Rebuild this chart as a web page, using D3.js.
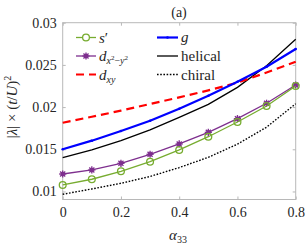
<!DOCTYPE html>
<html><head><meta charset="utf-8">
<script src="https://cdn.jsdelivr.net/npm/d3@7/dist/d3.min.js"></script>
<style>body{margin:0;background:#fff}svg{display:block}text{font-family:"Liberation Serif","DejaVu Serif",serif;fill:#262626}</style>
</head><body><svg id="c" width="305" height="245"></svg>
<script>
const alpha = [0, 0.1, 0.2, 0.3, 0.4, 0.5, 0.6, 0.7, 0.8];
const sPrime = [0.01077, 0.01145, 0.01239, 0.01353, 0.01492, 0.01649, 0.01823, 0.02013, 0.0225];
const dx2y2 = [0.01207, 0.01255, 0.01334, 0.01441, 0.01563, 0.01701, 0.01863, 0.02045, 0.02262];
const dxy = [0.01815, 0.01885, 0.01958, 0.02037, 0.02115, 0.02198, 0.02289, 0.0241, 0.02538];
const gWave = [0.0150, 0.01602, 0.01717, 0.01839, 0.0198, 0.02135, 0.02301, 0.02479, 0.02689];
const helical = [0.0140, 0.01492, 0.01602, 0.01729, 0.01878, 0.02032, 0.02234, 0.0249, 0.02803];
const chiral = [0.00967, 0.0103, 0.01097, 0.01178, 0.01283, 0.01405, 0.01561, 0.01762, 0.0204];
const xTicks = [0, 0.2, 0.4, 0.6, 0.8];
const xTickLabels = ["0", "0.2", "0.4", "0.6", "0.8"];
const yTicks = [0.01, 0.015, 0.02, 0.025, 0.03];
const yTickLabels = ["0.01", "0.015", "0.02", "0.025", "0.03"];

const svg = d3.select("#c");
const L = 62.7, R = 295.7, T = 22.7, B = 199.5;
const x = d3.scaleLinear().domain([0, 0.8]).range([L, R]);
const y = d3.scaleLinear().domain([0.00905, 0.03]).range([B, T]);
const axCol = "#b8b8b8";

// axes with inner ticks
const gx = svg.append("g").attr("transform", `translate(0,${B})`)
  .call(d3.axisBottom(x).tickValues(xTicks).tickFormat((d,i)=>xTickLabels[i]).tickSizeInner(-3).tickSizeOuter(0).tickPadding(8));
const gxt = svg.append("g").attr("transform", `translate(0,${T})`)
  .call(d3.axisTop(x).tickValues(xTicks).tickFormat("").tickSizeInner(-3).tickSizeOuter(0));
const gy = svg.append("g").attr("transform", `translate(${L},0)`)
  .call(d3.axisLeft(y).tickValues(yTicks).tickFormat((d,i)=>yTickLabels[i]).tickSizeInner(-3).tickSizeOuter(0).tickPadding(6));
const gyr = svg.append("g").attr("transform", `translate(${R},0)`)
  .call(d3.axisRight(y).tickValues(yTicks).tickFormat("").tickSizeInner(-3).tickSizeOuter(0));
[gx, gxt, gy, gyr].forEach(g => {
  g.select(".domain").remove();
  g.selectAll("line").attr("stroke", axCol);
  g.selectAll("text").style("font-family", '"Liberation Serif",serif').style("font-size", "14px").attr("fill", "#262626");
});
svg.append("rect").attr("x", L).attr("y", T).attr("width", R - L).attr("height", B - T)
  .attr("fill", "none").attr("stroke", axCol).attr("stroke-width", 1);

const line = d3.line().x((d, i) => x(alpha[i])).y(d => y(d));
function drawLine(data, color, width, dash) {
  svg.append("path").datum(data).attr("d", line).attr("fill", "none")
    .attr("stroke", color).attr("stroke-width", width).attr("stroke-dasharray", dash || null);
}
function star(g, cx, cy, color, r) {
  for (let k = 0; k < 4; k++) {
    const a = k * Math.PI / 4;
    g.append("line").attr("x1", cx - r * Math.cos(a)).attr("y1", cy - r * Math.sin(a))
      .attr("x2", cx + r * Math.cos(a)).attr("y2", cy + r * Math.sin(a))
      .attr("stroke", color).attr("stroke-width", 1.3);
  }
  g.append("circle").attr("cx", cx).attr("cy", cy).attr("r", 2.2).attr("fill", color);
}
const green = "#77AC30", purple = "#7E2F8E";

drawLine(chiral, "#000", 1.4, "1.6,1.6");
drawLine(helical, "#000", 1.3);
drawLine(dxy, "#ff0000", 2.2, "8,5");
drawLine(gWave, "#0000ff", 2.2);
svg.selectAll(".gdot").data(gWave).enter().append("circle")
  .attr("cx", (d, i) => x(alpha[i])).attr("cy", d => y(d)).attr("r", 1.3).attr("fill", "#0000ff");
drawLine(dx2y2, purple, 1.3);
const pg = svg.append("g");
dx2y2.forEach((d, i) => star(pg, x(alpha[i]), y(d), purple, 3.6));
drawLine(sPrime, green, 1.3);
svg.selectAll(".sc").data(sPrime).enter().append("circle")
  .attr("cx", (d, i) => x(alpha[i])).attr("cy", d => y(d)).attr("r", 3.4)
  .attr("fill", "none").attr("stroke", green).attr("stroke-width", 1.3);

// legend
const lg = svg.append("g");
const rows = [37.5, 56, 74.5];
// col 1
lg.append("line").attr("x1", 76).attr("x2", 96).attr("y1", rows[0]).attr("y2", rows[0]).attr("stroke", green).attr("stroke-width", 1.3);
lg.append("circle").attr("cx", 86).attr("cy", rows[0]).attr("r", 3.4).attr("fill", "#fff").attr("stroke", green).attr("stroke-width", 1.3);
lg.append("line").attr("x1", 76).attr("x2", 96).attr("y1", rows[1]).attr("y2", rows[1]).attr("stroke", purple).attr("stroke-width", 1.3);
star(lg, 86, rows[1], purple, 3.6);
lg.append("line").attr("x1", 76).attr("x2", 96).attr("y1", rows[2]).attr("y2", rows[2]).attr("stroke", "#ff0000").attr("stroke-width", 2.2).attr("stroke-dasharray", "8,5");
const t1 = lg.append("text").attr("x", 99).attr("y", rows[0] + 5).style("font-size", "15px");
t1.append("tspan").style("font-style", "italic").text("s");
t1.append("tspan").text("′");
const t2 = lg.append("text").attr("x", 99).attr("y", rows[1] + 5).style("font-size", "15px");
t2.append("tspan").style("font-style", "italic").text("d");
t2.append("tspan").attr("dy", 3).style("font-size", "10px").style("font-style", "italic").text("x");
t2.append("tspan").attr("dy", -4).style("font-size", "7px").text("2");
t2.append("tspan").attr("dy", 4).style("font-size", "10px").text("−");
t2.append("tspan").style("font-size", "10px").style("font-style", "italic").text("y");
t2.append("tspan").attr("dy", -4).style("font-size", "7px").text("2");
const t3 = lg.append("text").attr("x", 99).attr("y", rows[2] + 5).style("font-size", "15px");
t3.append("tspan").style("font-style", "italic").text("d");
t3.append("tspan").attr("dy", 3).style("font-size", "10px").style("font-style", "italic").text("xy");
// col 2
lg.append("line").attr("x1", 157).attr("x2", 178).attr("y1", rows[0]).attr("y2", rows[0]).attr("stroke", "#0000ff").attr("stroke-width", 2.2);
lg.append("circle").attr("cx", 167.5).attr("cy", rows[0]).attr("r", 1.3).attr("fill", "#0000ff");
lg.append("line").attr("x1", 157).attr("x2", 178).attr("y1", rows[1]).attr("y2", rows[1]).attr("stroke", "#000").attr("stroke-width", 1.3);
lg.append("line").attr("x1", 157).attr("x2", 178).attr("y1", rows[2]).attr("y2", rows[2]).attr("stroke", "#000").attr("stroke-width", 1.4).attr("stroke-dasharray", "1.6,1.6");
lg.append("text").attr("x", 181).attr("y", rows[0] + 4).style("font-size", "15px").style("font-style", "italic").text("g");
lg.append("text").attr("x", 181).attr("y", rows[1] + 5).style("font-size", "15px").text("helical");
lg.append("text").attr("x", 181).attr("y", rows[2] + 5).style("font-size", "15px").text("chiral");

// title
svg.append("text").attr("x", 179).attr("y", 17).attr("text-anchor", "middle").style("font-size", "14px").text("(a)");
// x label
const xl = svg.append("text").attr("x", 178).attr("y", 240).attr("text-anchor", "middle").style("font-size", "15px");
xl.append("tspan").style("font-style", "italic").text("α");
xl.append("tspan").attr("dy", 3).style("font-size", "10px").text("33");
// y label
const yl = svg.append("text").attr("transform", "translate(17,107) rotate(-90)").attr("text-anchor", "middle").style("font-size", "15px");
yl.append("tspan").text("|");
yl.append("tspan").style("font-style", "italic").text("λ");
yl.append("tspan").text("| × (");
yl.append("tspan").style("font-style", "italic").text("t");
yl.append("tspan").text("/");
yl.append("tspan").style("font-style", "italic").text("U");
yl.append("tspan").text(")");
yl.append("tspan").attr("dy", -6).style("font-size", "10px").text("2");
</script></body></html>
